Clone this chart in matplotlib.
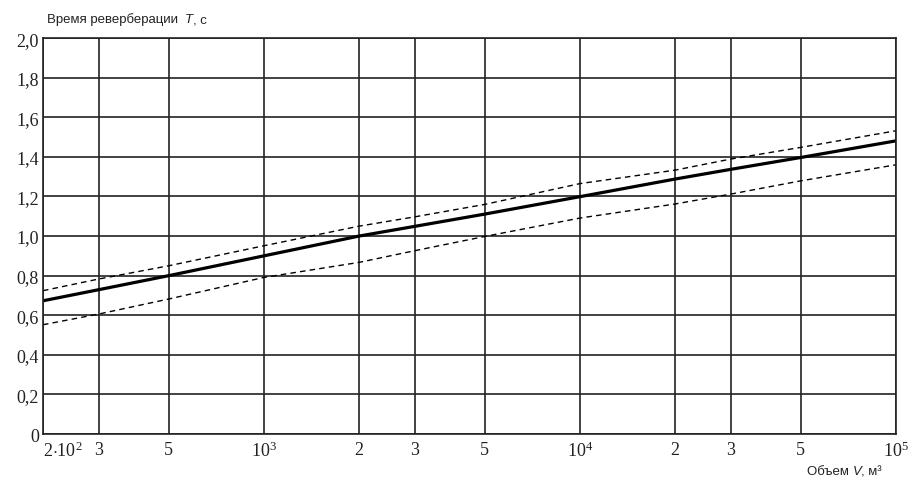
import matplotlib
matplotlib.use("Agg")
import matplotlib.pyplot as plt
import numpy as np

# объем помещения, м3 (линии сетки) и время реверберации, с
V = [200, 300, 500, 1000, 2000, 3000, 5000, 10000, 20000, 30000, 50000, 100000]
T_opt = [0.673, 0.729, 0.80, 0.90, 1.0, 1.049, 1.111, 1.199, 1.288, 1.337, 1.397, 1.481]
T_upper = [0.724, 0.783, 0.85, 0.951, 1.05, 1.097, 1.16, 1.265, 1.333, 1.389, 1.448, 1.532]
T_lower = [0.552, 0.606, 0.682, 0.791, 0.867, 0.926, 0.998, 1.091, 1.162, 1.212, 1.279, 1.36]

x_labels = [r"$2{\cdot}10^2$", "3", "5", r"$10^3$", "2", "3", "5", r"$10^4$", "2", "3", "5", r"$10^5$"]
y_ticks = np.arange(0, 2.01, 0.2)
y_labels = ["0"] + [f"{v:.1f}".replace(".", ",") for v in y_ticks[1:]]

plt.rcParams["mathtext.fontset"] = "custom"
plt.rcParams["mathtext.rm"] = "Liberation Serif"
plt.rcParams["mathtext.it"] = "Liberation Serif:italic"

fig = plt.figure(figsize=(9.18, 4.89), dpi=100)
ax = fig.add_axes([0.0468, 0.1104, 0.9292, 0.8096])

ax.plot(V, T_opt, color="black", lw=2.3, solid_capstyle="butt")
ax.plot(V, T_upper, color="black", lw=1.0, ls=(0, (4, 3)))
ax.plot(V, T_lower, color="black", lw=1.0, ls=(0, (4, 3)))

ax.set_xscale("log")
ax.set_xlim(200, 100000)
ax.set_ylim(0, 2.0)
ax.set_xticks(V)
ax.set_xticklabels(x_labels, family="Liberation Serif", fontsize=13)
ax.minorticks_off()
ax.set_yticks(y_ticks)
ax.set_yticklabels(y_labels, family="Liberation Serif", fontsize=13)
ax.tick_params(axis="both", length=0, colors="#222222")
ax.tick_params(axis="x", pad=5)
ax.tick_params(axis="y", pad=3)
ax.grid(True, color="#222222", lw=1.2)
for s in ax.spines.values():
    s.set_color("#222222")
    s.set_linewidth(1.2)

lbls = ax.get_xticklabels()
lbls[0].set_ha("left")
lbls[0].set_x(0)

# подписи осей: куски текста (курсив для T и V) цепляются один за другим
kw = dict(family="Liberation Sans", fontsize=9.5, color="#222222")

last = fig.text(0.051, 0.952, "Время реверберации  ", va="baseline", **kw)
last = ax.annotate("T", xy=(1, 0), xycoords=last, va="bottom", style="italic",
                   annotation_clip=False, **kw)
ax.annotate(", с", xy=(1, 0), xycoords=last, va="bottom", annotation_clip=False, **kw)

last = fig.text(0.879, 0.028, "Объем ", va="baseline", **kw)
last = ax.annotate("V", xy=(1, 0), xycoords=last, va="bottom", style="italic",
                   annotation_clip=False, **kw)
ax.annotate(", м³", xy=(1, 0), xycoords=last, va="bottom", annotation_clip=False, **kw)

fig.savefig("out.png", dpi=100)
